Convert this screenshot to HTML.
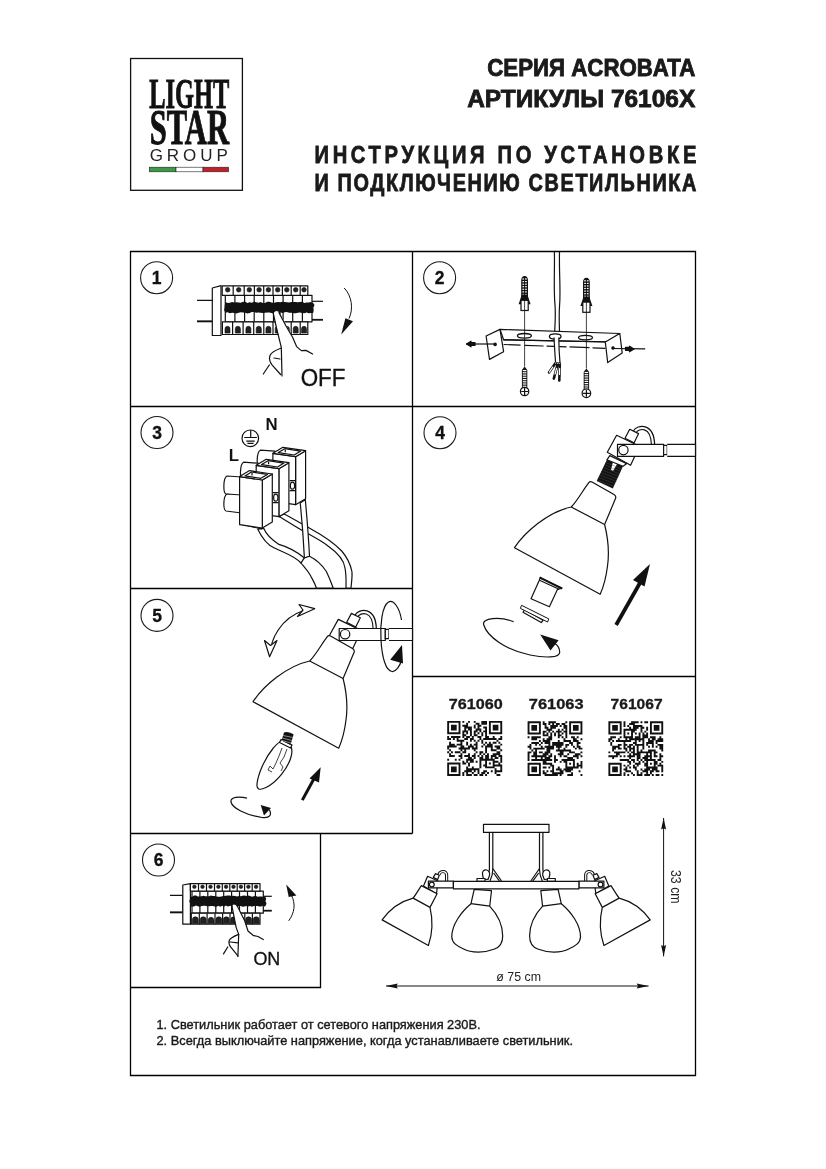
<!DOCTYPE html>
<html><head><meta charset="utf-8">
<style>
html,body{margin:0;padding:0;background:#fff;width:826px;height:1169px;overflow:hidden}
svg{display:block;position:absolute;left:0;top:0;will-change:transform}
text{font-family:"Liberation Sans",sans-serif}
.sf{font-family:"Liberation Serif",serif}
</style></head><body>
<svg width="826" height="1169" viewBox="0 0 826 1169">
<!-- base.svg -->
<g id="logo">
<rect x="130.6" y="58.5" width="111.8" height="131.8" fill="none" stroke="#111" stroke-width="1.3"/>
<text class="sf" x="149.2" y="107.5" font-size="42.5" font-weight="bold" fill="#111" stroke="#111" stroke-width="0.9" textLength="80.2" lengthAdjust="spacingAndGlyphs">LIGHT</text>
<text class="sf" x="149.7" y="144.2" font-size="50" font-weight="bold" fill="#111" stroke="#111" stroke-width="1" textLength="79.3" lengthAdjust="spacingAndGlyphs">STAR</text>
<text x="149.7" y="160.8" font-size="17" fill="#222" textLength="78.1" lengthAdjust="spacing">GROUP</text>
<rect x="149.3" y="167.2" width="26.7" height="4.6" fill="#3d9a48" stroke="#222" stroke-width="0.6"/>
<rect x="176" y="167.2" width="27" height="4.6" fill="#fff" stroke="#222" stroke-width="0.6"/>
<rect x="203" y="167.2" width="25.6" height="4.6" fill="#c11f2b" stroke="#222" stroke-width="0.6"/>
</g>
<g fill="#1a1a1a" stroke="#1a1a1a" stroke-width="0.85" font-weight="bold">
<text x="487.3" y="75.8" font-size="23.5" textLength="208" lengthAdjust="spacingAndGlyphs">СЕРИЯ ACROBATA</text>
<text x="467.2" y="106.8" font-size="24.5" textLength="228" lengthAdjust="spacingAndGlyphs">АРТИКУЛЫ 76106X</text>
<text x="314.5" y="162.8" font-size="24.7" letter-spacing="4.5" textLength="385.5" lengthAdjust="spacingAndGlyphs">ИНСТРУКЦИЯ ПО УСТАНОВКЕ</text>
<text x="314.5" y="190.9" font-size="24.7" letter-spacing="2" textLength="383.5" lengthAdjust="spacingAndGlyphs">И ПОДКЛЮЧЕНИЮ СВЕТИЛЬНИКА</text>
</g>
<g stroke="#000" stroke-width="1.3" fill="none">
<path d="M130.5 251.5H695.5V1075.5H130.5Z"/>
<path d="M412.5 251.5V833.5"/>
<path d="M130.5 406.5H695.5"/>
<path d="M130.5 588.5H412.5"/>
<path d="M412.5 676.5H695.5"/>
<path d="M130.5 833.5H412.5"/>
<path d="M320.5 833.5V987.5H130.5"/>
</g>
<g stroke="#1a1a1a" stroke-width="1.1" fill="none">
<circle cx="156.6" cy="277.7" r="16"/>
<circle cx="439.6" cy="277.7" r="16"/>
<circle cx="157" cy="432.5" r="16"/>
<circle cx="440" cy="432.7" r="16"/>
<circle cx="157" cy="615.4" r="16"/>
<circle cx="158.5" cy="860" r="16"/>
</g>
<g fill="#111" stroke="#111" stroke-width="0.3" font-weight="bold" font-size="17.5" text-anchor="middle">
<text x="156.6" y="283.8">1</text>
<text x="439.6" y="283.8">2</text>
<text x="157" y="438.6">3</text>
<text x="440" y="438.8">4</text>
<text x="157" y="621.5">5</text>
<text x="158.5" y="866.1">6</text>
</g>
<g fill="#1a1a1a" stroke="#1a1a1a" stroke-width="0.4" font-size="13.3">
<text x="156.5" y="1028.7" textLength="324" lengthAdjust="spacingAndGlyphs">1. Светильник работает от сетевого напряжения 230В.</text>
<text x="156.5" y="1044.9" textLength="416.5" lengthAdjust="spacingAndGlyphs">2. Всегда выключайте напряжение, когда устанавливаете светильник.</text>
</g>

<!-- p1.svg -->
<g fill="#fff" stroke="#111" stroke-width="1.2" stroke-linejoin="round">
<path d="M197 300.3H214.4V321.4H197" fill="none"/>
<path d="M197 321.4H214.4" stroke-width="1.8"/>
<path d="M312 301.3H323" fill="none"/>
<path d="M312 319.8H323" stroke-width="1.8"/>
<path d="M212.3 288L221 285.6V335.5H212.3Z"/>
<rect x="225.3" y="295.3" width="86.7" height="26.5"/>
<path d="M234.9 295.3V321.8"/>
<path d="M244.6 295.3V321.8"/>
<path d="M254.2 295.3V321.8"/>
<path d="M263.8 295.3V321.8"/>
<path d="M273.5 295.3V321.8"/>
<path d="M283.1 295.3V321.8"/>
<path d="M292.7 295.3V321.8"/>
<path d="M302.4 295.3V321.8"/>
<path fill="#111" stroke="none" d="M225.5 301.9 L227.7 302.9 L229.9 302.8 L232.1 302.1 L234.3 302.4 L236.5 302.3 L238.7 302.6 L240.8 302.8 L243 301.8 L245.2 301.7 L247.4 302.9 L249.6 302.3 L251.8 302.8 L254 301.7 L256.2 302.3 L258.4 302.7 L260.6 302 L262.8 303 L265 303 L267.2 301.7 L269.4 301.7 L271.5 302.5 L273.7 303 L275.9 302.2 L278.1 302 L280.3 302.3 L282.5 301.7 L284.7 302 L286.9 302.3 L289.1 302.4 L291.3 302 L293.5 302 L295.7 302 L297.9 302.3 L300 302.1 L302.2 301.7 L304.4 302.9 L306.6 302.5 L308.8 302.6 L311 302 L313.2 303.1 L314.5 304.9 L313.4 307.6 L313.7 310.2 L313.2 313 L311 313 L308.8 313.3 L306.6 312.6 L304.4 313.2 L302.2 312.9 L300 312.4 L297.9 312.8 L295.7 313.2 L293.5 313.2 L291.3 312.7 L289.1 312.8 L286.9 312 L284.7 312.3 L282.5 313.1 L280.3 312.6 L278.1 312.2 L275.9 312.8 L273.7 313 L271.5 312.9 L269.4 312.5 L267.2 312.6 L265 312.7 L262.8 313.1 L260.6 312.7 L258.4 312.6 L256.2 312.7 L254 312 L251.8 312.1 L249.6 313 L247.4 313.4 L245.2 312.8 L243 312.6 L240.8 312.2 L238.7 312.7 L236.5 313.4 L234.3 313.1 L232.1 312.8 L229.9 313.2 L227.7 312.3 L225.5 312.7 L224.1 310.2 L224.6 307.6 L224.8 304.9Z"/>
<path fill="#fff" d="M222.2 285.8H307.8V295.3H222.2Z"/>
<path d="M233.2 285.8V295.3"/>
<path d="M244.2 285.8V295.3"/>
<path d="M254.4 285.8V295.3"/>
<path d="M263.7 285.8V295.3"/>
<path d="M273 285.8V295.3"/>
<path d="M282.4 285.8V295.3"/>
<path d="M291.2 285.8V295.3"/>
<path d="M300.2 285.8V295.3"/>
<circle cx="227.7" cy="289.8" r="2.3" fill="#222" stroke="#111" stroke-width="0.6"/>
<circle cx="238.7" cy="289.8" r="2.3" fill="#222" stroke="#111" stroke-width="0.6"/>
<circle cx="249.3" cy="289.8" r="2.3" fill="#222" stroke="#111" stroke-width="0.6"/>
<circle cx="259.1" cy="289.8" r="2.3" fill="#222" stroke="#111" stroke-width="0.6"/>
<circle cx="268.4" cy="289.8" r="2.3" fill="#222" stroke="#111" stroke-width="0.6"/>
<circle cx="277.7" cy="289.8" r="2.3" fill="#222" stroke="#111" stroke-width="0.6"/>
<circle cx="286.8" cy="289.8" r="2.3" fill="#222" stroke="#111" stroke-width="0.6"/>
<circle cx="295.7" cy="289.8" r="2.3" fill="#222" stroke="#111" stroke-width="0.6"/>
<circle cx="304" cy="289.8" r="2.3" fill="#222" stroke="#111" stroke-width="0.6"/>
<path fill="#fff" d="M222.4 321.8H307.8V334.5H222.4Z"/>
<path d="M232.6 321.8V334.5"/>
<path d="M243.1 321.8V334.5"/>
<path d="M253.7 321.8V334.5"/>
<path d="M263.8 321.8V334.5"/>
<path d="M273 321.8V334.5"/>
<path d="M282.4 321.8V334.5"/>
<path d="M291.2 321.8V334.5"/>
<path d="M300.2 321.8V334.5"/>
<path fill="#222" stroke="#111" stroke-width="0.6" d="M225 328.8A2.5 2.5 0 0 1 230 328.8V333.1H225Z"/>
<path fill="#222" stroke="#111" stroke-width="0.6" d="M235.3 328.8A2.5 2.5 0 0 1 240.4 328.8V333.1H235.3Z"/>
<path fill="#222" stroke="#111" stroke-width="0.6" d="M245.9 328.8A2.5 2.5 0 0 1 250.9 328.8V333.1H245.9Z"/>
<path fill="#222" stroke="#111" stroke-width="0.6" d="M256.2 328.8A2.5 2.5 0 0 1 261.3 328.8V333.1H256.2Z"/>
<path fill="#222" stroke="#111" stroke-width="0.6" d="M265.9 328.8A2.5 2.5 0 0 1 270.9 328.8V333.1H265.9Z"/>
<path fill="#222" stroke="#111" stroke-width="0.6" d="M275.2 328.8A2.5 2.5 0 0 1 280.2 328.8V333.1H275.2Z"/>
<path fill="#222" stroke="#111" stroke-width="0.6" d="M284.3 328.8A2.5 2.5 0 0 1 289.3 328.8V333.1H284.3Z"/>
<path fill="#222" stroke="#111" stroke-width="0.6" d="M293.2 328.8A2.5 2.5 0 0 1 298.2 328.8V333.1H293.2Z"/>
<path fill="#222" stroke="#111" stroke-width="0.6" d="M301.5 328.8A2.5 2.5 0 0 1 306.5 328.8V333.1H301.5Z"/>
</g>
<g fill="#fff" stroke="#111" stroke-width="1.2" stroke-linejoin="round" stroke-linecap="round">
<path d="M273.3 313.3C273.5 311.2 275.5 310.2 277.5 310.6C279.5 311 280 312 280.2 313.5L292.6 337.3L296.6 346.6L301.3 350.6L306 351.5L312.6 354.5L312.6 380L282 380L281.3 347.3Z" stroke="none"/>
<path d="M273.3 313.3C273.5 311.2 275.5 310.2 277.5 310.6C279.5 311 280 312 280.2 313.5" fill="none"/>
<path d="M273.3 313.3L276.5 328L281.3 347.3L282 375.9" fill="none"/>
<path d="M279 312.6L286 326L292.6 337.3L296.6 346.6L301.3 350.6L306 350.4L312.6 354" fill="none"/>
<path d="M281.3 348C276 350 271.5 352 270 355.5C268.8 359 269.8 362 272 364.8L280.6 374.5" fill="none"/>
<path d="M274 358L280 359" fill="none"/>
<path d="M269.3 365L263.3 374" fill="none"/>
</g>
<path d="M344.2 288C352 296 353.5 309 349 318.6" fill="none" stroke="#111" stroke-width="1"/>
<path d="M345.4 318.3L353 321.3L341.2 334.6Z" fill="#111"/>
<text x="300.7" y="386.2" font-size="24" fill="#111" stroke="#111" stroke-width="0.35" textLength="44.8" lengthAdjust="spacingAndGlyphs">OFF</text>
<g fill="#fff" stroke="#111" stroke-width="1.2" stroke-linejoin="round">
<path d="M170 895.4H182.8V912.4H170" fill="none"/>
<path d="M170 912.4H182.8" stroke-width="1.8"/>
<path d="M262.5 896.3H271.8" fill="none"/>
<path d="M262.5 910.7H271.8" stroke-width="1.8"/>
<path d="M182.8 885L190.4 883.6V924.2H182.8Z"/>
<rect x="192" y="891.2" width="71.3" height="22"/>
<path d="M199.9 891.2V913.2"/>
<path d="M207.8 891.2V913.2"/>
<path d="M215.8 891.2V913.2"/>
<path d="M223.7 891.2V913.2"/>
<path d="M231.6 891.2V913.2"/>
<path d="M239.5 891.2V913.2"/>
<path d="M247.5 891.2V913.2"/>
<path d="M255.4 891.2V913.2"/>
<path fill="#111" stroke="none" d="M190.4 896.7 L192.3 896.7 L194.1 895.5 L196 895.5 L197.9 896.6 L199.7 896.4 L201.6 896.3 L203.5 895.8 L205.3 896.2 L207.2 896.2 L209.1 896.2 L210.9 895.6 L212.8 896 L214.6 896 L216.5 896.4 L218.4 896.8 L220.2 896.7 L222.1 896.2 L224 896 L225.8 895.8 L227.7 895.5 L229.6 895.4 L231.4 896.1 L233.3 895.8 L235.2 895.9 L237 896.6 L238.9 896.1 L240.8 896.2 L242.6 895.7 L244.5 895.4 L246.4 895.9 L248.2 895.6 L250.1 896.1 L251.9 896.8 L253.8 896.3 L255.7 895.7 L257.5 896.7 L259.4 896.5 L261.3 896.4 L263.1 896.7 L265 896.5 L266.2 898.5 L265.5 901.1 L266.5 903.7 L265 906.7 L263.1 905.6 L261.3 906.5 L259.4 906.4 L257.5 906 L255.7 906.1 L253.8 906.1 L251.9 906.7 L250.1 906.1 L248.2 906.6 L246.4 905.9 L244.5 906.6 L242.6 906.7 L240.8 906 L238.9 906.2 L237 906.7 L235.2 906.4 L233.3 906.1 L231.4 905.7 L229.6 905.9 L227.7 906.4 L225.8 905.6 L224 906.7 L222.1 905.8 L220.2 906.7 L218.4 905.8 L216.5 906.7 L214.6 906.4 L212.8 906.1 L210.9 906.1 L209.1 906.3 L207.2 906.2 L205.3 905.8 L203.5 905.7 L201.6 906.1 L199.7 906.7 L197.9 906.3 L196 905.5 L194.1 906.5 L192.3 906.4 L190.4 906.7 L190.1 903.7 L189.3 901.1 L190.3 898.5Z"/>
<path fill="#fff" d="M190.4 883.6H260V891.2H190.4Z"/>
<path d="M198.5 883.6V891.2"/>
<path d="M206.5 883.6V891.2"/>
<path d="M214.5 883.6V891.2"/>
<path d="M222.3 883.6V891.2"/>
<path d="M229.8 883.6V891.2"/>
<path d="M237.2 883.6V891.2"/>
<path d="M244.6 883.6V891.2"/>
<path d="M252.2 883.6V891.2"/>
<circle cx="194.4" cy="886.8" r="1.8" fill="#222" stroke="#111" stroke-width="0.6"/>
<circle cx="202.5" cy="886.8" r="1.8" fill="#222" stroke="#111" stroke-width="0.6"/>
<circle cx="210.5" cy="886.8" r="1.8" fill="#222" stroke="#111" stroke-width="0.6"/>
<circle cx="218.4" cy="886.8" r="1.8" fill="#222" stroke="#111" stroke-width="0.6"/>
<circle cx="226.1" cy="886.8" r="1.8" fill="#222" stroke="#111" stroke-width="0.6"/>
<circle cx="233.5" cy="886.8" r="1.8" fill="#222" stroke="#111" stroke-width="0.6"/>
<circle cx="240.9" cy="886.8" r="1.8" fill="#222" stroke="#111" stroke-width="0.6"/>
<circle cx="248.4" cy="886.8" r="1.8" fill="#222" stroke="#111" stroke-width="0.6"/>
<circle cx="256.1" cy="886.8" r="1.8" fill="#222" stroke="#111" stroke-width="0.6"/>
<path fill="#fff" d="M191.3 913.2H260V924.2H191.3Z"/>
<path d="M199.3 913.2V924.2"/>
<path d="M207.1 913.2V924.2"/>
<path d="M215 913.2V924.2"/>
<path d="M222.6 913.2V924.2"/>
<path d="M230 913.2V924.2"/>
<path d="M237.4 913.2V924.2"/>
<path d="M244.8 913.2V924.2"/>
<path d="M252.4 913.2V924.2"/>
<path fill="#222" stroke="#111" stroke-width="0.6" d="M192.3 919.8A3 3 0 0 1 198.3 919.8V923.4H192.3Z"/>
<path fill="#222" stroke="#111" stroke-width="0.6" d="M200.2 919.8A3 3 0 0 1 206.2 919.8V923.4H200.2Z"/>
<path fill="#222" stroke="#111" stroke-width="0.6" d="M208.1 919.8A3 3 0 0 1 214 919.8V923.4H208.1Z"/>
<path fill="#222" stroke="#111" stroke-width="0.6" d="M215.8 919.8A3 3 0 0 1 221.8 919.8V923.4H215.8Z"/>
<path fill="#222" stroke="#111" stroke-width="0.6" d="M223.3 919.8A3 3 0 0 1 229.3 919.8V923.4H223.3Z"/>
<path fill="#222" stroke="#111" stroke-width="0.6" d="M230.7 919.8A3 3 0 0 1 236.7 919.8V923.4H230.7Z"/>
<path fill="#222" stroke="#111" stroke-width="0.6" d="M238.1 919.8A3 3 0 0 1 244.1 919.8V923.4H238.1Z"/>
<path fill="#222" stroke="#111" stroke-width="0.6" d="M245.6 919.8A3 3 0 0 1 251.6 919.8V923.4H245.6Z"/>
<path fill="#222" stroke="#111" stroke-width="0.6" d="M253.2 919.8A3 3 0 0 1 259.2 919.8V923.4H253.2Z"/>
</g>
<g fill="#fff" stroke="#111" stroke-width="1.2" stroke-linejoin="round" stroke-linecap="round">
<path d="M232 906.4C231.8 904.6 233 903.8 234.2 903.9C235.6 904 236.6 904.8 237 905.6L244.7 920.8L248 931L253 935.3L263.3 939.5L263.3 960L237.9 960L238.7 934.4L236.2 927.6Z" stroke="none"/>
<path d="M232 906.4C231.8 904.6 233 903.8 234.2 903.9C235.6 904 236.6 904.8 237 905.6" fill="none"/>
<path d="M232 906.4L236.2 927.6L238.7 934.4L237.9 956.4" fill="none"/>
<path d="M237 905.6L244.7 920.8L248 931L253 935.3L258 936.5L263.3 939.5" fill="none"/>
<path d="M238.7 934.4C234.5 936 230.5 937.8 229.3 940.3C228.4 943 229 945 230.8 947.2L237.9 955.8" fill="none"/>
<path d="M230.3 942L237.9 942.9" fill="none"/>
<path d="M227.7 947L223.5 953.9" fill="none"/>
</g>
<path d="M288.7 920.8C294.5 913 296 904 291.3 895" fill="none" stroke="#111" stroke-width="1"/>
<path d="M286.2 884.4L296.4 895.4L288.7 897Z" fill="#111"/>
<text x="253.4" y="965.1" font-size="17.5" fill="#111" stroke="#111" stroke-width="0.3" textLength="26.9" lengthAdjust="spacingAndGlyphs">ON</text>

<!-- p2.svg -->
<g stroke="#111" stroke-width="1.2" fill="none" stroke-linejoin="round">
<path d="M554.4 252C554.8 270 553.5 290 555 305C556 318 554.5 328 554.6 336M559.5 252C559 272 560.8 290 559.6 305C558.6 318 559.7 328 559.5 336"/>
<path fill="#fff" d="M500 329.4L619.8 333.5L607.7 341.8L503.6 339.8Z"/>
<path d="M503.6 339.8L607.7 342"/>
<path d="M503.6 344.5L605.3 348.3" stroke-dasharray="17 4 19 3 20 3 20 3"/>
<path fill="#fff" d="M486.1 336L500 329.4L503.6 351.7L489.5 359.4Z"/>
<path fill="#fff" d="M605.3 342L619.8 333.5L622.2 352.9L607.7 362.6Z"/>
<ellipse cx="524.4" cy="335.8" rx="7" ry="2.3" stroke-width="1.3"/>
<ellipse cx="555.2" cy="336.4" rx="5.8" ry="2.6" stroke-width="1.3" fill="#fff"/>
<ellipse cx="585.5" cy="337.6" rx="7" ry="2.3" stroke-width="1.3"/>
<circle cx="495.1" cy="344.4" r="1.2" fill="#111"/><circle cx="613" cy="348" r="1.2" fill="#111"/>
<path d="M466 344H495"/><path d="M466.5 344L471 341.2V346.8Z" fill="#111"/><rect x="470.5" y="342.5" width="4.5" height="3" fill="#111"/>
<path d="M613 348.5L645.2 348.8"/><path d="M634 349L629.5 346.2V351.8Z" fill="#111"/><rect x="625.5" y="347.3" width="4.5" height="3" fill="#111"/>
<path fill="#fff" stroke="none" d="M554 337L555.6 363L560 363L558.8 337Z"/><path d="M554 337.5C554.5 346 555 356 555.6 363M558.8 337.5C558.8 348 559.4 356 560 363"/>
<path d="M555.6 363L549 372.5M557.8 363.5L553.8 378.6M559.8 363.5L559.3 380.5" stroke-width="2.6" stroke-linecap="round"/>
<path d="M555.6 363L549 372.5M557.8 363.5L553.8 378.6M559.8 363.5L559.3 380.5" stroke="#fff" stroke-width="1.2" stroke-linecap="round" stroke-dasharray="0 5 6 20"/>
<path d="M524.6 310V366.6M586.4 312V368.5" stroke-width="0.8"/>
</g>
<path fill="#111" d="M521.2 280.5Q521.4 276 524.6 276Q527.8 276 528 280.5V297.6H521.2Z"/>
<path d="M522.4 279H526.8" stroke="#fff" stroke-width="1.2"/>
<path d="M522.4 281.6H526.8" stroke="#fff" stroke-width="1.2"/>
<path d="M522.4 284.2H526.8" stroke="#fff" stroke-width="1.2"/>
<path d="M522.4 286.7H526.8" stroke="#fff" stroke-width="1.2"/>
<path d="M522.4 289.3H526.8" stroke="#fff" stroke-width="1.2"/>
<path d="M522.4 291.9H526.8" stroke="#fff" stroke-width="1.2"/>
<path d="M522.4 294.5H526.8" stroke="#fff" stroke-width="1.2"/>
<path d="M524.6 277.5V297.6" stroke="#111" stroke-width="1"/>
<path fill="#111" d="M521.8 294.6L518.6 304.2L521 304.2L528.2 304.2L530.6 304.2L527.4 294.6Z"/>
<rect x="521" y="300.3" width="7.2" height="10.2" fill="#fff" stroke="#111" stroke-width="1.2"/>
<path d="M524.6 300.3V310.5" stroke="#111" stroke-width="0.8"/>
<path fill="#111" d="M583 282.3Q583.2 277.8 586.4 277.8Q589.6 277.8 589.8 282.3V299.4H583Z"/>
<path d="M584.2 280.8H588.6" stroke="#fff" stroke-width="1.2"/>
<path d="M584.2 283.4H588.6" stroke="#fff" stroke-width="1.2"/>
<path d="M584.2 286H588.6" stroke="#fff" stroke-width="1.2"/>
<path d="M584.2 288.5H588.6" stroke="#fff" stroke-width="1.2"/>
<path d="M584.2 291.1H588.6" stroke="#fff" stroke-width="1.2"/>
<path d="M584.2 293.7H588.6" stroke="#fff" stroke-width="1.2"/>
<path d="M584.2 296.3H588.6" stroke="#fff" stroke-width="1.2"/>
<path d="M586.4 279.3V299.4" stroke="#111" stroke-width="1"/>
<path fill="#111" d="M583.6 296.4L580.4 306L582.8 306L590 306L592.4 306L589.2 296.4Z"/>
<rect x="582.8" y="302.1" width="7.2" height="10.2" fill="#fff" stroke="#111" stroke-width="1.2"/>
<path d="M586.4 302.1V312.3" stroke="#111" stroke-width="0.8"/>
<path fill="#111" d="M524.6 366.6L527.3 370.1V388.5H521.9L521.9 370.1Z"/>
<path d="M522.8 370.6H526.4" stroke="#fff" stroke-width="1.2"/>
<path d="M522.8 372.8H526.4" stroke="#fff" stroke-width="1.2"/>
<path d="M522.8 375.1H526.4" stroke="#fff" stroke-width="1.2"/>
<path d="M522.8 377.3H526.4" stroke="#fff" stroke-width="1.2"/>
<path d="M522.8 379.6H526.4" stroke="#fff" stroke-width="1.2"/>
<path d="M522.8 381.8H526.4" stroke="#fff" stroke-width="1.2"/>
<path d="M522.8 384H526.4" stroke="#fff" stroke-width="1.2"/>
<path d="M522.8 386.3H526.4" stroke="#fff" stroke-width="1.2"/>
<circle cx="524.6" cy="391.5" r="4.2" fill="#fff" stroke="#111" stroke-width="1.2"/>
<path d="M521.2 391.5H528M524.6 388.1V394.9" stroke="#111" stroke-width="1.2"/>
<path fill="#111" d="M586.4 368.5L589.1 372V390.3H583.7L583.7 372Z"/>
<path d="M584.6 372.5H588.2" stroke="#fff" stroke-width="1.2"/>
<path d="M584.6 374.7H588.2" stroke="#fff" stroke-width="1.2"/>
<path d="M584.6 376.9H588.2" stroke="#fff" stroke-width="1.2"/>
<path d="M584.6 379.2H588.2" stroke="#fff" stroke-width="1.2"/>
<path d="M584.6 381.4H588.2" stroke="#fff" stroke-width="1.2"/>
<path d="M584.6 383.6H588.2" stroke="#fff" stroke-width="1.2"/>
<path d="M584.6 385.9H588.2" stroke="#fff" stroke-width="1.2"/>
<path d="M584.6 388.1H588.2" stroke="#fff" stroke-width="1.2"/>
<circle cx="586.4" cy="393.3" r="4.3" fill="#fff" stroke="#111" stroke-width="1.2"/>
<path d="M582.9 393.3H589.9M586.4 389.8V396.8" stroke="#111" stroke-width="1.2"/>

<!-- p3.svg -->
<g stroke="#111" stroke-width="1.2" fill="#fff" stroke-linejoin="round">
<path fill="#fff" d="M257.8 529.2C262 538 268 545 274 547.8C285 553 295 556 301 563L304.4 558C296 551 288 547 279 544.4C272 540 266 534 263.7 528.3Z"/>
<path fill="#fff" d="M279 516.4C288 522 296 527 302.7 530.8C312 536 322 541 328 546C338 553 344 560 345 568C346.5 576 346 582 346 588H351C351.5 582 352.5 576 351.9 571.5C350 562 346 556 341.7 551C334 543 322 535 311 529C302 524 292 518 284 514Z"/>
<path fill="#fff" d="M300.2 502.9C302 520 303.5 540 304.4 558L309.5 556.3C308.5 536 307 518 305.3 499.5Z"/>
<path fill="#fff" d="M301 563C305 568 309 572 311 576.6C313.5 581 315.5 585 316.3 588H333.2C331 582 329 577 326.4 571.5C322 565 315 559 309.5 556.3L304.4 558Z"/>
<path fill="none" d="M240 524L262 529"/>
<path d="M274.9 451.2L260.3 450.2C256.3 452.2 256.3 467.7 259.3 468.7L274.9 470.7Z"/>
<path d="M295.6 456.7L305.6 450.7V498.7L295.6 504.7Z"/>
<path d="M272.9 453.3L295.6 456.7V504.7L272.9 501.3Z"/>
<path d="M272.9 453.3L282.9 447.3L305.6 450.7L295.6 456.7Z"/>
<path d="M278.3 452.6L294.2 455L300.7 451.1L284.8 448.7Z" stroke-width="1.2"/>
<path d="M285.3 449.7L285.3 452.2" fill="none"/>
<path d="M292.2 482.2C295.4 482.2 295.4 489.2 292.2 489.2C289.7 489.2 289.7 482.2 292.2 482.2Z" fill="#fff"/>
<path d="M289.7 480.7H295.2M289.7 490.7H295.2" fill="none"/><path d="M258.2 463.2L243.6 462.2C239.6 464.2 239.6 479.7 242.6 480.7L258.2 482.7Z"/>
<path d="M278.9 468.7L288.9 462.7V510.7L278.9 516.7Z"/>
<path d="M256.2 465.3L278.9 468.7V516.7L256.2 513.3Z"/>
<path d="M256.2 465.3L266.2 459.3L288.9 462.7L278.9 468.7Z"/>
<path d="M261.6 464.6L277.5 467L284 463.1L268.1 460.7Z" stroke-width="1.2"/>
<path d="M268.6 461.7L268.6 464.2" fill="none"/>
<path d="M275.5 494.2C278.7 494.2 278.7 501.2 275.5 501.2C273 501.2 273 494.2 275.5 494.2Z" fill="#fff"/>
<path d="M273 492.7H278.5M273 502.7H278.5" fill="none"/><path d="M241.6 477L227 476C223 478 223 493 226 494L241.6 496Z"/>
<path d="M241.6 495L227 494C223 496 223 510 226 511L241.6 513Z"/>
<path d="M262.3 480L272.3 474V522L262.3 528Z"/>
<path d="M239.6 476.6L262.3 480V528L239.6 524.6Z"/>
<path d="M239.6 476.6L249.6 470.6L272.3 474L262.3 480Z"/>
<path d="M245 475.9L260.9 478.3L267.4 474.4L251.5 472Z" stroke-width="1.2"/>
<path d="M252 473L252 475.5" fill="none"/></g>
<g stroke="#111" stroke-width="1.2" fill="none"><circle cx="250.3" cy="438.3" r="8.3"/><path d="M250.7 430.3V437.3M244.2 437.5H256.9M246.3 441.2H254.7M247.4 443.4H253.6"/></g>
<text x="265.5" y="429.6" font-size="16.8" font-weight="bold" fill="#111">N</text>
<text x="228.8" y="460.6" font-size="16.8" font-weight="bold" fill="#111">L</text>

<!-- p4.svg -->
<g stroke="#111" stroke-width="1.2" fill="#fff" stroke-linejoin="round">
<path fill="#111" stroke="none" d="M606.9 459.8L623 466.2L612.8 488.6L596.7 481Z"/>
<path fill="#fff" stroke="none" d="M613.2 460.7L617.5 463.2L613.2 470.8L611 470Z"/>
<path stroke="#555" stroke-width="0.4" d="M605.5 462.5L622 469M604.5 465L621 471.5M603.3 467.5L619.8 474M602.2 470L618.7 476.5M601 472.5L617.5 479M600 475L616.5 481.5M598.8 477.5L615.3 484M597.7 480L614 486.5"/>
<path fill="#fff" d="M609.8 455.6L626.8 463.6L623 466.2L606.9 459.8Z"/>
<path fill="none" stroke-width="4.4" d="M634.6 432 C638 426 652.5 424 653 444.2" stroke-linecap="butt"/>
<path fill="none" stroke="#fff" stroke-width="2" d="M634.6 432 C638 426 652.5 424 653 445"/>
<path fill="#fff" d="M625 438.2L629.7 429.3L638.6 433.6L634 442.9Z"/>
<path fill="#fff" d="M607.3 452.2L616.6 435.3L639.5 446.3L630.6 465.3Z"/>
<rect x="617.5" y="444.4" width="46.1" height="12" fill="#fff"/>
<rect x="663.6" y="445.3" width="3.6" height="9.3" fill="#fff"/>
<path fill="#fff" d="M667.2 444.4H695.5V456.4H667.2"/>
<circle cx="623.4" cy="450.1" r="4.7" fill="#fff"/>
<path fill="#fff" d="M588.6 482.8C589.5 481.6 590.8 481.3 592 482L614 494.6C615.6 495.6 616.2 497 615.5 498.6L604.6 524.5C607.5 536 609.5 552 607.5 566C606 578 603 588 600.2 594.2L514.5 547.7C525 532 548 512 571.2 507C578 500 583 490 588.6 482.8Z"/>
<path fill="none" d="M571.2 507L604.6 524.5"/>
<path fill="#fff" d="M540.2 578L562 588L557.4 589.6L549.4 606.8L531 598.8L539 581L540.2 578Z"/>
<path fill="none" d="M539.5 580.3L558.6 589"/>
<path fill="none" stroke-width="2" d="M539.6 577.3L562 588.6"/>
<path fill="#fff" d="M524.7 609.5L523 612.3L541.3 622.6L543 620.3Z"/>
<path fill="#fff" stroke-width="1" d="M521.5 605.3L548.8 618.9L547.6 622L520.4 608.4Z"/>
<path fill="none" d="M513.7 621.8C500 616 481 618 483.8 625C487 636 505 650 530 655C545 658 560 658 559.7 652C559.5 648 557 645 555 643.6"/>
<path fill="#111" stroke="none" d="M540.2 634.4L558.6 640.2L550.5 650.5Z"/>
<path fill="none" stroke-width="3.8" d="M616.1 625L640.5 582"/>
<path fill="#111" stroke="none" d="M650 564L633 580L644.5 586.4Z"/>
</g>

<!-- p5.svg -->
<g stroke="#111" stroke-width="1.2" fill="#fff" stroke-linejoin="round">
<path fill="none" stroke-width="4.4" d="M356.3 616.1 C359.7 610.1 374.2 608.1 374.7 628.3" stroke-linecap="butt"/>
<path fill="none" stroke="#fff" stroke-width="2" d="M356.3 616.1 C359.7 610.1 374.2 608.1 374.7 629.1"/>
<path fill="#fff" d="M346.7 622.3L351.4 613.4L360.3 617.7L355.7 627Z"/>
<path fill="#fff" d="M329 636.3L338.3 619.4L361.2 630.4L352.3 649.4Z"/>
<rect x="339.2" y="628.5" width="46.1" height="12" fill="#fff"/>
<rect x="385.3" y="629.4" width="3.6" height="9.3" fill="#fff"/>
<path fill="#fff" d="M388.9 628.5H412.5V640.5H388.9"/>
<circle cx="345.1" cy="634.2" r="4.7" fill="#fff"/>
<g transform="translate(-261.5 154)"><path fill="#fff" d="M588.6 482.8C589.5 481.6 590.8 481.3 592 482L614 494.6C615.6 495.6 616.2 497 615.5 498.6L604.6 524.5C607.5 536 609.5 552 607.5 566C606 578 603 588 600.2 594.2L514.5 547.7C525 532 548 512 571.2 507C578 500 583 490 588.6 482.8Z"/>
<path fill="none" d="M571.2 507L604.6 524.5"/></g>
<path fill="none" d="M401.5 620C399.5 607 393 599 388.5 602C382 606 380 625 381 640C382 658 386 671 392 671.5C396 672 400 666 401.5 660"/>
<path fill="#111" stroke="none" d="M402 645L390.2 659.7L403 663.6Z"/>
<path fill="none" d="M271 653C270 640 281 618 303 610.7"/>
<path fill="#fff" d="M314.7 608.7L299 604.5L303 610L297.5 616.5Z"/>
<path fill="#fff" d="M269.6 656.8L264.5 640.5L270.5 645.5L277 640.5Z"/>
<path fill="#fff" d="M282.5 741C289 742 294 746 291 757C288 768 277 782 266 787.5C259 791 256.5 789 257 784C258 774 265 758 273 748.5C276 745 279 741 282.5 741Z"/>
<path fill="#fff" d="M281 739.5L292 745L290.5 748L279.5 742.5Z"/>
<path fill="#111" stroke="none" d="M284 732.5C286 731 291 732.5 293.6 734.5L290.5 745L281.5 740.5Z"/>
<path stroke="#fff" stroke-width="0.5" d="M283 735.5L292.8 737.5M282.3 738L291.8 740.5M281.8 740.5L291 743"/>
<path fill="none" stroke-width="0.8" d="M282 748L279 756L276 763M287 749L284 757M276 763L273 769L270 766L268 770L272 772M284 757L280 763L283 767L281 771"/>
<path fill="none" stroke-width="3" d="M302.3 800.1L316 775"/>
<path fill="#111" stroke="none" d="M320.7 767.2L309.5 778.5L319 782.5Z"/>
<path fill="none" d="M247 798.2C239 796 230 797 231 802C232.5 808 245 815 262 817.5C270 818.5 272 815 269.4 809.8"/>
<path fill="#111" stroke="none" d="M260.7 805L271 808L264 815.5Z"/>
</g>

<!-- qr.svg -->
<path fill="#111" d="M447.2 720.9h13.28v1.95h-13.28zM462.37 720.9h1.9v1.95h-1.9zM468.06 720.9h1.9v1.95h-1.9zM473.75 720.9h1.9v1.95h-1.9zM481.34 720.9h5.69v1.95h-5.69zM488.92 720.9h13.28v1.95h-13.28zM447.2 722.8h1.9v1.95h-1.9zM458.58 722.8h1.9v1.95h-1.9zM466.17 722.8h1.9v1.95h-1.9zM475.65 722.8h3.79v1.95h-3.79zM481.34 722.8h5.69v1.95h-5.69zM488.92 722.8h1.9v1.95h-1.9zM500.3 722.8h1.9v1.95h-1.9zM447.2 724.69h1.9v1.95h-1.9zM450.99 724.69h5.69v1.95h-5.69zM458.58 724.69h1.9v1.95h-1.9zM462.37 724.69h5.69v1.95h-5.69zM473.75 724.69h1.9v1.95h-1.9zM477.54 724.69h3.79v1.95h-3.79zM488.92 724.69h1.9v1.95h-1.9zM492.72 724.69h5.69v1.95h-5.69zM500.3 724.69h1.9v1.95h-1.9zM447.2 726.59h1.9v1.95h-1.9zM450.99 726.59h5.69v1.95h-5.69zM458.58 726.59h1.9v1.95h-1.9zM464.27 726.59h7.59v1.95h-7.59zM473.75 726.59h1.9v1.95h-1.9zM477.54 726.59h1.9v1.95h-1.9zM483.23 726.59h3.79v1.95h-3.79zM488.92 726.59h1.9v1.95h-1.9zM492.72 726.59h5.69v1.95h-5.69zM500.3 726.59h1.9v1.95h-1.9zM447.2 728.49h1.9v1.95h-1.9zM450.99 728.49h5.69v1.95h-5.69zM458.58 728.49h1.9v1.95h-1.9zM464.27 728.49h1.9v1.95h-1.9zM468.06 728.49h3.79v1.95h-3.79zM475.65 728.49h5.69v1.95h-5.69zM485.13 728.49h1.9v1.95h-1.9zM488.92 728.49h1.9v1.95h-1.9zM492.72 728.49h5.69v1.95h-5.69zM500.3 728.49h1.9v1.95h-1.9zM447.2 730.38h1.9v1.95h-1.9zM458.58 730.38h1.9v1.95h-1.9zM462.37 730.38h5.69v1.95h-5.69zM469.96 730.38h1.9v1.95h-1.9zM473.75 730.38h3.79v1.95h-3.79zM479.44 730.38h1.9v1.95h-1.9zM483.23 730.38h3.79v1.95h-3.79zM488.92 730.38h1.9v1.95h-1.9zM500.3 730.38h1.9v1.95h-1.9zM447.2 732.28h13.28v1.95h-13.28zM462.37 732.28h1.9v1.95h-1.9zM466.17 732.28h1.9v1.95h-1.9zM469.96 732.28h1.9v1.95h-1.9zM473.75 732.28h1.9v1.95h-1.9zM477.54 732.28h1.9v1.95h-1.9zM481.34 732.28h1.9v1.95h-1.9zM485.13 732.28h1.9v1.95h-1.9zM488.92 732.28h13.28v1.95h-13.28zM462.37 734.18h3.79v1.95h-3.79zM469.96 734.18h1.9v1.95h-1.9zM473.75 734.18h3.79v1.95h-3.79zM481.34 734.18h1.9v1.95h-1.9zM485.13 734.18h1.9v1.95h-1.9zM447.2 736.07h1.9v1.95h-1.9zM450.99 736.07h9.48v1.95h-9.48zM462.37 736.07h1.9v1.95h-1.9zM466.17 736.07h3.79v1.95h-3.79zM471.86 736.07h1.9v1.95h-1.9zM477.54 736.07h3.79v1.95h-3.79zM485.13 736.07h3.79v1.95h-3.79zM492.72 736.07h1.9v1.95h-1.9zM500.3 736.07h1.9v1.95h-1.9zM447.2 737.97h3.79v1.95h-3.79zM452.89 737.97h1.9v1.95h-1.9zM456.68 737.97h1.9v1.95h-1.9zM464.27 737.97h3.79v1.95h-3.79zM469.96 737.97h3.79v1.95h-3.79zM479.44 737.97h1.9v1.95h-1.9zM483.23 737.97h13.28v1.95h-13.28zM498.41 737.97h3.79v1.95h-3.79zM456.68 739.87h7.59v1.95h-7.59zM469.96 739.87h1.9v1.95h-1.9zM473.75 739.87h1.9v1.95h-1.9zM477.54 739.87h1.9v1.95h-1.9zM481.34 739.87h1.9v1.95h-1.9zM496.51 739.87h1.9v1.95h-1.9zM449.1 741.76h1.9v1.95h-1.9zM460.48 741.76h1.9v1.95h-1.9zM466.17 741.76h1.9v1.95h-1.9zM475.65 741.76h1.9v1.95h-1.9zM481.34 741.76h1.9v1.95h-1.9zM485.13 741.76h1.9v1.95h-1.9zM488.92 741.76h1.9v1.95h-1.9zM492.72 741.76h3.79v1.95h-3.79zM498.41 741.76h1.9v1.95h-1.9zM449.1 743.66h5.69v1.95h-5.69zM456.68 743.66h5.69v1.95h-5.69zM466.17 743.66h1.9v1.95h-1.9zM469.96 743.66h1.9v1.95h-1.9zM473.75 743.66h3.79v1.95h-3.79zM483.23 743.66h1.9v1.95h-1.9zM487.03 743.66h5.69v1.95h-5.69zM500.3 743.66h1.9v1.95h-1.9zM447.2 745.56h9.48v1.95h-9.48zM460.48 745.56h3.79v1.95h-3.79zM468.06 745.56h5.69v1.95h-5.69zM475.65 745.56h1.9v1.95h-1.9zM481.34 745.56h1.9v1.95h-1.9zM485.13 745.56h7.59v1.95h-7.59zM494.61 745.56h5.69v1.95h-5.69zM447.2 747.45h1.9v1.95h-1.9zM458.58 747.45h11.38v1.95h-11.38zM471.86 747.45h5.69v1.95h-5.69zM485.13 747.45h1.9v1.95h-1.9zM490.82 747.45h1.9v1.95h-1.9zM496.51 747.45h3.79v1.95h-3.79zM449.1 749.35h1.9v1.95h-1.9zM460.48 749.35h1.9v1.95h-1.9zM464.27 749.35h1.9v1.95h-1.9zM473.75 749.35h1.9v1.95h-1.9zM485.13 749.35h1.9v1.95h-1.9zM490.82 749.35h5.69v1.95h-5.69zM500.3 749.35h1.9v1.95h-1.9zM447.2 751.24h1.9v1.95h-1.9zM450.99 751.24h1.9v1.95h-1.9zM454.79 751.24h5.69v1.95h-5.69zM462.37 751.24h3.79v1.95h-3.79zM475.65 751.24h1.9v1.95h-1.9zM479.44 751.24h3.79v1.95h-3.79zM485.13 751.24h1.9v1.95h-1.9zM496.51 751.24h3.79v1.95h-3.79zM449.1 753.14h1.9v1.95h-1.9zM460.48 753.14h1.9v1.95h-1.9zM468.06 753.14h1.9v1.95h-1.9zM473.75 753.14h1.9v1.95h-1.9zM479.44 753.14h1.9v1.95h-1.9zM483.23 753.14h1.9v1.95h-1.9zM487.03 753.14h1.9v1.95h-1.9zM492.72 753.14h7.59v1.95h-7.59zM449.1 755.04h5.69v1.95h-5.69zM458.58 755.04h3.79v1.95h-3.79zM464.27 755.04h5.69v1.95h-5.69zM471.86 755.04h3.79v1.95h-3.79zM477.54 755.04h1.9v1.95h-1.9zM481.34 755.04h1.9v1.95h-1.9zM485.13 755.04h3.79v1.95h-3.79zM490.82 755.04h5.69v1.95h-5.69zM498.41 755.04h3.79v1.95h-3.79zM460.48 756.93h1.9v1.95h-1.9zM468.06 756.93h3.79v1.95h-3.79zM473.75 756.93h1.9v1.95h-1.9zM479.44 756.93h3.79v1.95h-3.79zM485.13 756.93h3.79v1.95h-3.79zM490.82 756.93h1.9v1.95h-1.9zM494.61 756.93h3.79v1.95h-3.79zM500.3 756.93h1.9v1.95h-1.9zM447.2 758.83h1.9v1.95h-1.9zM454.79 758.83h1.9v1.95h-1.9zM458.58 758.83h1.9v1.95h-1.9zM466.17 758.83h7.59v1.95h-7.59zM479.44 758.83h15.17v1.95h-15.17zM500.3 758.83h1.9v1.95h-1.9zM462.37 760.73h1.9v1.95h-1.9zM466.17 760.73h1.9v1.95h-1.9zM469.96 760.73h3.79v1.95h-3.79zM475.65 760.73h1.9v1.95h-1.9zM479.44 760.73h1.9v1.95h-1.9zM485.13 760.73h1.9v1.95h-1.9zM492.72 760.73h5.69v1.95h-5.69zM500.3 760.73h1.9v1.95h-1.9zM447.2 762.62h13.28v1.95h-13.28zM462.37 762.62h3.79v1.95h-3.79zM468.06 762.62h1.9v1.95h-1.9zM479.44 762.62h1.9v1.95h-1.9zM485.13 762.62h1.9v1.95h-1.9zM488.92 762.62h1.9v1.95h-1.9zM492.72 762.62h1.9v1.95h-1.9zM498.41 762.62h1.9v1.95h-1.9zM447.2 764.52h1.9v1.95h-1.9zM458.58 764.52h1.9v1.95h-1.9zM468.06 764.52h1.9v1.95h-1.9zM479.44 764.52h1.9v1.95h-1.9zM483.23 764.52h3.79v1.95h-3.79zM492.72 764.52h9.48v1.95h-9.48zM447.2 766.42h1.9v1.95h-1.9zM450.99 766.42h5.69v1.95h-5.69zM458.58 766.42h1.9v1.95h-1.9zM466.17 766.42h1.9v1.95h-1.9zM471.86 766.42h1.9v1.95h-1.9zM479.44 766.42h1.9v1.95h-1.9zM485.13 766.42h9.48v1.95h-9.48zM500.3 766.42h1.9v1.95h-1.9zM447.2 768.31h1.9v1.95h-1.9zM450.99 768.31h5.69v1.95h-5.69zM458.58 768.31h1.9v1.95h-1.9zM466.17 768.31h13.28v1.95h-13.28zM494.61 768.31h1.9v1.95h-1.9zM500.3 768.31h1.9v1.95h-1.9zM447.2 770.21h1.9v1.95h-1.9zM450.99 770.21h5.69v1.95h-5.69zM458.58 770.21h1.9v1.95h-1.9zM464.27 770.21h7.59v1.95h-7.59zM473.75 770.21h1.9v1.95h-1.9zM477.54 770.21h1.9v1.95h-1.9zM483.23 770.21h3.79v1.95h-3.79zM490.82 770.21h1.9v1.95h-1.9zM494.61 770.21h7.59v1.95h-7.59zM447.2 772.11h1.9v1.95h-1.9zM458.58 772.11h1.9v1.95h-1.9zM462.37 772.11h1.9v1.95h-1.9zM466.17 772.11h1.9v1.95h-1.9zM471.86 772.11h1.9v1.95h-1.9zM477.54 772.11h1.9v1.95h-1.9zM481.34 772.11h3.79v1.95h-3.79zM487.03 772.11h1.9v1.95h-1.9zM494.61 772.11h1.9v1.95h-1.9zM447.2 774h13.28v1.95h-13.28zM462.37 774h1.9v1.95h-1.9zM466.17 774h5.69v1.95h-5.69zM473.75 774h3.79v1.95h-3.79zM479.44 774h3.79v1.95h-3.79zM485.13 774h1.9v1.95h-1.9zM496.51 774h3.79v1.95h-3.79z"/>
<path fill="#111" d="M527.6 721.2h13.23v1.94h-13.23zM542.72 721.2h1.89v1.94h-1.89zM548.39 721.2h7.56v1.94h-7.56zM565.39 721.2h1.89v1.94h-1.89zM569.17 721.2h13.23v1.94h-13.23zM527.6 723.09h1.89v1.94h-1.89zM538.94 723.09h1.89v1.94h-1.89zM542.72 723.09h3.78v1.94h-3.78zM548.39 723.09h1.89v1.94h-1.89zM552.17 723.09h1.89v1.94h-1.89zM555.94 723.09h3.78v1.94h-3.78zM561.61 723.09h3.78v1.94h-3.78zM569.17 723.09h1.89v1.94h-1.89zM580.51 723.09h1.89v1.94h-1.89zM527.6 724.98h1.89v1.94h-1.89zM531.38 724.98h5.67v1.94h-5.67zM538.94 724.98h1.89v1.94h-1.89zM544.61 724.98h1.89v1.94h-1.89zM550.28 724.98h7.56v1.94h-7.56zM559.72 724.98h1.89v1.94h-1.89zM563.5 724.98h3.78v1.94h-3.78zM569.17 724.98h1.89v1.94h-1.89zM572.95 724.98h5.67v1.94h-5.67zM580.51 724.98h1.89v1.94h-1.89zM527.6 726.87h1.89v1.94h-1.89zM531.38 726.87h5.67v1.94h-5.67zM538.94 726.87h1.89v1.94h-1.89zM544.61 726.87h3.78v1.94h-3.78zM550.28 726.87h5.67v1.94h-5.67zM563.5 726.87h3.78v1.94h-3.78zM569.17 726.87h1.89v1.94h-1.89zM572.95 726.87h5.67v1.94h-5.67zM580.51 726.87h1.89v1.94h-1.89zM527.6 728.76h1.89v1.94h-1.89zM531.38 728.76h5.67v1.94h-5.67zM538.94 728.76h1.89v1.94h-1.89zM546.5 728.76h5.67v1.94h-5.67zM557.83 728.76h1.89v1.94h-1.89zM561.61 728.76h1.89v1.94h-1.89zM565.39 728.76h1.89v1.94h-1.89zM569.17 728.76h1.89v1.94h-1.89zM572.95 728.76h5.67v1.94h-5.67zM580.51 728.76h1.89v1.94h-1.89zM527.6 730.65h1.89v1.94h-1.89zM538.94 730.65h1.89v1.94h-1.89zM542.72 730.65h3.78v1.94h-3.78zM548.39 730.65h1.89v1.94h-1.89zM552.17 730.65h1.89v1.94h-1.89zM555.94 730.65h5.67v1.94h-5.67zM563.5 730.65h3.78v1.94h-3.78zM569.17 730.65h1.89v1.94h-1.89zM580.51 730.65h1.89v1.94h-1.89zM527.6 732.54h13.23v1.94h-13.23zM542.72 732.54h1.89v1.94h-1.89zM546.5 732.54h1.89v1.94h-1.89zM550.28 732.54h1.89v1.94h-1.89zM554.06 732.54h1.89v1.94h-1.89zM557.83 732.54h1.89v1.94h-1.89zM561.61 732.54h1.89v1.94h-1.89zM565.39 732.54h1.89v1.94h-1.89zM569.17 732.54h13.23v1.94h-13.23zM542.72 734.43h5.67v1.94h-5.67zM550.28 734.43h1.89v1.94h-1.89zM554.06 734.43h1.89v1.94h-1.89zM557.83 734.43h3.78v1.94h-3.78zM565.39 734.43h1.89v1.94h-1.89zM527.6 736.32h1.89v1.94h-1.89zM531.38 736.32h9.45v1.94h-9.45zM548.39 736.32h3.78v1.94h-3.78zM557.83 736.32h1.89v1.94h-1.89zM561.61 736.32h1.89v1.94h-1.89zM565.39 736.32h1.89v1.94h-1.89zM571.06 736.32h3.78v1.94h-3.78zM576.73 736.32h1.89v1.94h-1.89zM531.38 738.21h5.67v1.94h-5.67zM542.72 738.21h1.89v1.94h-1.89zM546.5 738.21h5.67v1.94h-5.67zM563.5 738.21h1.89v1.94h-1.89zM572.95 738.21h3.78v1.94h-3.78zM580.51 738.21h1.89v1.94h-1.89zM538.94 740.1h1.89v1.94h-1.89zM542.72 740.1h7.56v1.94h-7.56zM557.83 740.1h1.89v1.94h-1.89zM563.5 740.1h7.56v1.94h-7.56zM572.95 740.1h5.67v1.94h-5.67zM531.38 741.99h7.56v1.94h-7.56zM540.83 741.99h1.89v1.94h-1.89zM544.61 741.99h5.67v1.94h-5.67zM552.17 741.99h11.34v1.94h-11.34zM569.17 741.99h3.78v1.94h-3.78zM576.73 741.99h3.78v1.94h-3.78zM529.49 743.88h1.89v1.94h-1.89zM535.16 743.88h1.89v1.94h-1.89zM538.94 743.88h1.89v1.94h-1.89zM548.39 743.88h1.89v1.94h-1.89zM552.17 743.88h11.34v1.94h-11.34zM565.39 743.88h3.78v1.94h-3.78zM571.06 743.88h1.89v1.94h-1.89zM576.73 743.88h1.89v1.94h-1.89zM527.6 745.77h3.78v1.94h-3.78zM540.83 745.77h1.89v1.94h-1.89zM544.61 745.77h9.45v1.94h-9.45zM555.94 745.77h5.67v1.94h-5.67zM565.39 745.77h1.89v1.94h-1.89zM572.95 745.77h1.89v1.94h-1.89zM576.73 745.77h3.78v1.94h-3.78zM529.49 747.66h1.89v1.94h-1.89zM533.27 747.66h11.34v1.94h-11.34zM546.5 747.66h7.56v1.94h-7.56zM557.83 747.66h1.89v1.94h-1.89zM563.5 747.66h1.89v1.94h-1.89zM574.84 747.66h1.89v1.94h-1.89zM578.62 747.66h3.78v1.94h-3.78zM531.38 749.54h1.89v1.94h-1.89zM535.16 749.54h1.89v1.94h-1.89zM546.5 749.54h3.78v1.94h-3.78zM555.94 749.54h15.12v1.94h-15.12zM527.6 751.43h3.78v1.94h-3.78zM533.27 751.43h3.78v1.94h-3.78zM538.94 751.43h3.78v1.94h-3.78zM544.61 751.43h5.67v1.94h-5.67zM559.72 751.43h3.78v1.94h-3.78zM569.17 751.43h5.67v1.94h-5.67zM580.51 751.43h1.89v1.94h-1.89zM527.6 753.32h1.89v1.94h-1.89zM533.27 753.32h3.78v1.94h-3.78zM542.72 753.32h5.67v1.94h-5.67zM550.28 753.32h1.89v1.94h-1.89zM557.83 753.32h5.67v1.94h-5.67zM567.28 753.32h1.89v1.94h-1.89zM574.84 753.32h5.67v1.94h-5.67zM527.6 755.21h1.89v1.94h-1.89zM531.38 755.21h15.12v1.94h-15.12zM548.39 755.21h3.78v1.94h-3.78zM554.06 755.21h1.89v1.94h-1.89zM559.72 755.21h1.89v1.94h-1.89zM563.5 755.21h3.78v1.94h-3.78zM572.95 755.21h5.67v1.94h-5.67zM580.51 755.21h1.89v1.94h-1.89zM527.6 757.1h1.89v1.94h-1.89zM535.16 757.1h1.89v1.94h-1.89zM540.83 757.1h1.89v1.94h-1.89zM544.61 757.1h5.67v1.94h-5.67zM554.06 757.1h1.89v1.94h-1.89zM567.28 757.1h5.67v1.94h-5.67zM576.73 757.1h1.89v1.94h-1.89zM527.6 758.99h1.89v1.94h-1.89zM531.38 758.99h20.79v1.94h-20.79zM554.06 758.99h3.78v1.94h-3.78zM561.61 758.99h13.23v1.94h-13.23zM542.72 760.88h3.78v1.94h-3.78zM554.06 760.88h1.89v1.94h-1.89zM559.72 760.88h1.89v1.94h-1.89zM563.5 760.88h3.78v1.94h-3.78zM572.95 760.88h1.89v1.94h-1.89zM580.51 760.88h1.89v1.94h-1.89zM527.6 762.77h13.23v1.94h-13.23zM542.72 762.77h9.45v1.94h-9.45zM565.39 762.77h1.89v1.94h-1.89zM569.17 762.77h1.89v1.94h-1.89zM572.95 762.77h1.89v1.94h-1.89zM576.73 762.77h1.89v1.94h-1.89zM580.51 762.77h1.89v1.94h-1.89zM527.6 764.66h1.89v1.94h-1.89zM538.94 764.66h1.89v1.94h-1.89zM550.28 764.66h3.78v1.94h-3.78zM565.39 764.66h1.89v1.94h-1.89zM572.95 764.66h1.89v1.94h-1.89zM576.73 764.66h5.67v1.94h-5.67zM527.6 766.55h1.89v1.94h-1.89zM531.38 766.55h5.67v1.94h-5.67zM538.94 766.55h1.89v1.94h-1.89zM542.72 766.55h3.78v1.94h-3.78zM548.39 766.55h1.89v1.94h-1.89zM552.17 766.55h1.89v1.94h-1.89zM557.83 766.55h1.89v1.94h-1.89zM565.39 766.55h13.23v1.94h-13.23zM580.51 766.55h1.89v1.94h-1.89zM527.6 768.44h1.89v1.94h-1.89zM531.38 768.44h5.67v1.94h-5.67zM538.94 768.44h1.89v1.94h-1.89zM552.17 768.44h1.89v1.94h-1.89zM555.94 768.44h5.67v1.94h-5.67zM563.5 768.44h9.45v1.94h-9.45zM527.6 770.33h1.89v1.94h-1.89zM531.38 770.33h5.67v1.94h-5.67zM538.94 770.33h1.89v1.94h-1.89zM542.72 770.33h1.89v1.94h-1.89zM546.5 770.33h1.89v1.94h-1.89zM550.28 770.33h3.78v1.94h-3.78zM559.72 770.33h3.78v1.94h-3.78zM565.39 770.33h5.67v1.94h-5.67zM578.62 770.33h1.89v1.94h-1.89zM527.6 772.22h1.89v1.94h-1.89zM538.94 772.22h1.89v1.94h-1.89zM542.72 772.22h3.78v1.94h-3.78zM552.17 772.22h11.34v1.94h-11.34zM571.06 772.22h1.89v1.94h-1.89zM527.6 774.11h13.23v1.94h-13.23zM544.61 774.11h13.23v1.94h-13.23zM559.72 774.11h1.89v1.94h-1.89zM567.28 774.11h5.67v1.94h-5.67zM580.51 774.11h1.89v1.94h-1.89z"/>
<path fill="#111" d="M608.4 721.2h13.23v1.94h-13.23zM623.52 721.2h1.89v1.94h-1.89zM631.08 721.2h7.56v1.94h-7.56zM640.52 721.2h1.89v1.94h-1.89zM644.3 721.2h3.78v1.94h-3.78zM649.97 721.2h13.23v1.94h-13.23zM608.4 723.09h1.89v1.94h-1.89zM619.74 723.09h1.89v1.94h-1.89zM623.52 723.09h1.89v1.94h-1.89zM629.19 723.09h5.67v1.94h-5.67zM649.97 723.09h1.89v1.94h-1.89zM661.31 723.09h1.89v1.94h-1.89zM608.4 724.98h1.89v1.94h-1.89zM612.18 724.98h5.67v1.94h-5.67zM619.74 724.98h1.89v1.94h-1.89zM623.52 724.98h1.89v1.94h-1.89zM627.3 724.98h1.89v1.94h-1.89zM632.97 724.98h9.45v1.94h-9.45zM649.97 724.98h1.89v1.94h-1.89zM653.75 724.98h5.67v1.94h-5.67zM661.31 724.98h1.89v1.94h-1.89zM608.4 726.87h1.89v1.94h-1.89zM612.18 726.87h5.67v1.94h-5.67zM619.74 726.87h1.89v1.94h-1.89zM629.19 726.87h1.89v1.94h-1.89zM632.97 726.87h5.67v1.94h-5.67zM640.52 726.87h3.78v1.94h-3.78zM646.19 726.87h1.89v1.94h-1.89zM649.97 726.87h1.89v1.94h-1.89zM653.75 726.87h5.67v1.94h-5.67zM661.31 726.87h1.89v1.94h-1.89zM608.4 728.76h1.89v1.94h-1.89zM612.18 728.76h5.67v1.94h-5.67zM619.74 728.76h1.89v1.94h-1.89zM623.52 728.76h13.23v1.94h-13.23zM640.52 728.76h1.89v1.94h-1.89zM646.19 728.76h1.89v1.94h-1.89zM649.97 728.76h1.89v1.94h-1.89zM653.75 728.76h5.67v1.94h-5.67zM661.31 728.76h1.89v1.94h-1.89zM608.4 730.65h1.89v1.94h-1.89zM619.74 730.65h1.89v1.94h-1.89zM623.52 730.65h1.89v1.94h-1.89zM631.08 730.65h3.78v1.94h-3.78zM640.52 730.65h1.89v1.94h-1.89zM644.3 730.65h1.89v1.94h-1.89zM649.97 730.65h1.89v1.94h-1.89zM661.31 730.65h1.89v1.94h-1.89zM608.4 732.54h13.23v1.94h-13.23zM623.52 732.54h1.89v1.94h-1.89zM627.3 732.54h1.89v1.94h-1.89zM631.08 732.54h1.89v1.94h-1.89zM634.86 732.54h1.89v1.94h-1.89zM638.63 732.54h1.89v1.94h-1.89zM642.41 732.54h1.89v1.94h-1.89zM646.19 732.54h1.89v1.94h-1.89zM649.97 732.54h13.23v1.94h-13.23zM623.52 734.43h1.89v1.94h-1.89zM631.08 734.43h1.89v1.94h-1.89zM638.63 734.43h1.89v1.94h-1.89zM642.41 734.43h5.67v1.94h-5.67zM610.29 736.32h5.67v1.94h-5.67zM619.74 736.32h1.89v1.94h-1.89zM623.52 736.32h9.45v1.94h-9.45zM634.86 736.32h5.67v1.94h-5.67zM642.41 736.32h5.67v1.94h-5.67zM649.97 736.32h5.67v1.94h-5.67zM659.42 736.32h1.89v1.94h-1.89zM608.4 738.21h3.78v1.94h-3.78zM617.85 738.21h1.89v1.94h-1.89zM625.41 738.21h1.89v1.94h-1.89zM629.19 738.21h15.12v1.94h-15.12zM648.08 738.21h1.89v1.94h-1.89zM651.86 738.21h3.78v1.94h-3.78zM657.53 738.21h5.67v1.94h-5.67zM608.4 740.1h1.89v1.94h-1.89zM612.18 740.1h1.89v1.94h-1.89zM615.96 740.1h15.12v1.94h-15.12zM634.86 740.1h1.89v1.94h-1.89zM638.63 740.1h1.89v1.94h-1.89zM642.41 740.1h1.89v1.94h-1.89zM648.08 740.1h5.67v1.94h-5.67zM655.64 740.1h7.56v1.94h-7.56zM610.29 741.99h1.89v1.94h-1.89zM623.52 741.99h1.89v1.94h-1.89zM632.97 741.99h3.78v1.94h-3.78zM642.41 741.99h1.89v1.94h-1.89zM646.19 741.99h7.56v1.94h-7.56zM655.64 741.99h1.89v1.94h-1.89zM610.29 743.88h1.89v1.94h-1.89zM617.85 743.88h3.78v1.94h-3.78zM623.52 743.88h3.78v1.94h-3.78zM629.19 743.88h3.78v1.94h-3.78zM634.86 743.88h9.45v1.94h-9.45zM646.19 743.88h1.89v1.94h-1.89zM651.86 743.88h1.89v1.94h-1.89zM657.53 743.88h5.67v1.94h-5.67zM612.18 745.77h7.56v1.94h-7.56zM623.52 745.77h1.89v1.94h-1.89zM627.3 745.77h3.78v1.94h-3.78zM632.97 745.77h1.89v1.94h-1.89zM636.74 745.77h1.89v1.94h-1.89zM642.41 745.77h1.89v1.94h-1.89zM648.08 745.77h1.89v1.94h-1.89zM651.86 745.77h1.89v1.94h-1.89zM655.64 745.77h1.89v1.94h-1.89zM659.42 745.77h3.78v1.94h-3.78zM612.18 747.66h3.78v1.94h-3.78zM617.85 747.66h3.78v1.94h-3.78zM623.52 747.66h3.78v1.94h-3.78zM629.19 747.66h5.67v1.94h-5.67zM636.74 747.66h1.89v1.94h-1.89zM642.41 747.66h1.89v1.94h-1.89zM659.42 747.66h3.78v1.94h-3.78zM612.18 749.54h1.89v1.94h-1.89zM625.41 749.54h1.89v1.94h-1.89zM629.19 749.54h1.89v1.94h-1.89zM632.97 749.54h1.89v1.94h-1.89zM636.74 749.54h1.89v1.94h-1.89zM640.52 749.54h1.89v1.94h-1.89zM648.08 749.54h7.56v1.94h-7.56zM661.31 749.54h1.89v1.94h-1.89zM608.4 751.43h1.89v1.94h-1.89zM614.07 751.43h11.34v1.94h-11.34zM627.3 751.43h1.89v1.94h-1.89zM631.08 751.43h3.78v1.94h-3.78zM636.74 751.43h15.12v1.94h-15.12zM653.75 751.43h3.78v1.94h-3.78zM615.96 753.32h3.78v1.94h-3.78zM629.19 753.32h1.89v1.94h-1.89zM632.97 753.32h7.56v1.94h-7.56zM646.19 753.32h1.89v1.94h-1.89zM649.97 753.32h1.89v1.94h-1.89zM653.75 753.32h1.89v1.94h-1.89zM659.42 753.32h1.89v1.94h-1.89zM608.4 755.21h9.45v1.94h-9.45zM619.74 755.21h1.89v1.94h-1.89zM623.52 755.21h1.89v1.94h-1.89zM627.3 755.21h7.56v1.94h-7.56zM636.74 755.21h3.78v1.94h-3.78zM644.3 755.21h7.56v1.94h-7.56zM653.75 755.21h3.78v1.94h-3.78zM659.42 755.21h3.78v1.94h-3.78zM612.18 757.1h1.89v1.94h-1.89zM629.19 757.1h1.89v1.94h-1.89zM636.74 757.1h3.78v1.94h-3.78zM642.41 757.1h5.67v1.94h-5.67zM649.97 757.1h1.89v1.94h-1.89zM659.42 757.1h1.89v1.94h-1.89zM619.74 758.99h9.45v1.94h-9.45zM631.08 758.99h3.78v1.94h-3.78zM636.74 758.99h1.89v1.94h-1.89zM640.52 758.99h1.89v1.94h-1.89zM644.3 758.99h11.34v1.94h-11.34zM657.53 758.99h3.78v1.94h-3.78zM627.3 760.88h3.78v1.94h-3.78zM632.97 760.88h1.89v1.94h-1.89zM638.63 760.88h1.89v1.94h-1.89zM642.41 760.88h1.89v1.94h-1.89zM646.19 760.88h1.89v1.94h-1.89zM653.75 760.88h3.78v1.94h-3.78zM661.31 760.88h1.89v1.94h-1.89zM608.4 762.77h13.23v1.94h-13.23zM629.19 762.77h1.89v1.94h-1.89zM634.86 762.77h5.67v1.94h-5.67zM644.3 762.77h3.78v1.94h-3.78zM649.97 762.77h1.89v1.94h-1.89zM653.75 762.77h3.78v1.94h-3.78zM659.42 762.77h1.89v1.94h-1.89zM608.4 764.66h1.89v1.94h-1.89zM619.74 764.66h1.89v1.94h-1.89zM623.52 764.66h1.89v1.94h-1.89zM627.3 764.66h1.89v1.94h-1.89zM632.97 764.66h1.89v1.94h-1.89zM636.74 764.66h1.89v1.94h-1.89zM644.3 764.66h3.78v1.94h-3.78zM653.75 764.66h1.89v1.94h-1.89zM657.53 764.66h5.67v1.94h-5.67zM608.4 766.55h1.89v1.94h-1.89zM612.18 766.55h5.67v1.94h-5.67zM619.74 766.55h1.89v1.94h-1.89zM625.41 766.55h1.89v1.94h-1.89zM629.19 766.55h1.89v1.94h-1.89zM632.97 766.55h3.78v1.94h-3.78zM646.19 766.55h11.34v1.94h-11.34zM661.31 766.55h1.89v1.94h-1.89zM608.4 768.44h1.89v1.94h-1.89zM612.18 768.44h5.67v1.94h-5.67zM619.74 768.44h1.89v1.94h-1.89zM623.52 768.44h3.78v1.94h-3.78zM634.86 768.44h1.89v1.94h-1.89zM640.52 768.44h1.89v1.94h-1.89zM644.3 768.44h5.67v1.94h-5.67zM651.86 768.44h5.67v1.94h-5.67zM661.31 768.44h1.89v1.94h-1.89zM608.4 770.33h1.89v1.94h-1.89zM612.18 770.33h5.67v1.94h-5.67zM619.74 770.33h1.89v1.94h-1.89zM625.41 770.33h5.67v1.94h-5.67zM636.74 770.33h1.89v1.94h-1.89zM642.41 770.33h5.67v1.94h-5.67zM649.97 770.33h3.78v1.94h-3.78zM655.64 770.33h3.78v1.94h-3.78zM661.31 770.33h1.89v1.94h-1.89zM608.4 772.22h1.89v1.94h-1.89zM619.74 772.22h1.89v1.94h-1.89zM623.52 772.22h1.89v1.94h-1.89zM631.08 772.22h1.89v1.94h-1.89zM636.74 772.22h1.89v1.94h-1.89zM640.52 772.22h1.89v1.94h-1.89zM646.19 772.22h1.89v1.94h-1.89zM649.97 772.22h1.89v1.94h-1.89zM608.4 774.11h13.23v1.94h-13.23zM623.52 774.11h1.89v1.94h-1.89zM627.3 774.11h1.89v1.94h-1.89zM632.97 774.11h1.89v1.94h-1.89zM636.74 774.11h5.67v1.94h-5.67zM644.3 774.11h5.67v1.94h-5.67zM651.86 774.11h1.89v1.94h-1.89zM655.64 774.11h3.78v1.94h-3.78zM661.31 774.11h1.89v1.94h-1.89z"/>
<g fill="#1a1a1a" font-weight="bold" font-size="14.6" stroke="#1a1a1a" stroke-width="0.3">
<text x="448.7" y="708.6" textLength="54" lengthAdjust="spacingAndGlyphs">761060</text>
<text x="528.8" y="708.7" textLength="54.8" lengthAdjust="spacingAndGlyphs">761063</text>
<text x="610.6" y="708.7" textLength="52" lengthAdjust="spacingAndGlyphs">761067</text>
</g>

<!-- chand.svg -->
<g stroke="#111" stroke-width="1.2" fill="#fff" stroke-linejoin="round">
<path fill="#fff" d="M483.5 824.3H549V832.4H483.5Z"/>

<path fill="none" d="M489.4 832.4V869.6C489.4 873 488.5 876 486.5 879.5M492.8 832.4V869.6C492.8 873 492 877 490 881"/>
<path fill="none" d="M492.8 868.5L501.5 881M493.6 873L499.5 881.2"/>
<path fill="#fff" d="M482.5 874.5C482 871.5 484 869.5 486.5 870C489 870.5 490 873 489.5 875.5L488 879.5L483.5 879Z"/>
<path fill="#fff" d="M477 878.5H485V881.4H477Z"/>
<path fill="none" stroke-width="3.2" d="M438.9 875C439.5 870.8 446 870 446.6 874.8V881"/>
<path fill="none" stroke="#fff" stroke-width="1.2" d="M438.9 875.5C439.5 870.8 446 870 446.6 874.8V881.5"/>
<path fill="#fff" d="M433.3 877.4L435.5 873.6L439.3 875.3L437.6 879.6Z"/>
<path fill="#fff" d="M427.6 876.3L438 881L436.5 893.8L423.5 886.1Z"/>
<path fill="#fff" d="M428.4 881.2H453.4V887.8H428.4Z"/>
<circle cx="431.8" cy="884.5" r="2.4" fill="#fff"/>
<path fill="#fff" d="M421.3 885.6L437.1 893.8L430 907.4C432.5 918 433 932 428.4 945.5L382.1 919.9C392 906 402 901 413.1 898.1C416 894.5 419 889 421.3 885.6Z"/>
<path fill="none" d="M413.1 898.1L430 907.4"/>
<path fill="#fff" d="M474.2 889.4L491.5 890.7L489.7 906.2C497 914 502.7 925 502.7 936C502.7 942 500 947 494.6 949C488 951.5 482 952.1 478.5 952.1C472 952 467 951 463.6 949C457 946 452 943 451.8 937C451.6 925 461 912 471 903.7Z"/>
<path fill="none" d="M471 903.7L489.7 906.2"/>
<g transform="matrix(-1 0 0 1 1032.3 0)">
<path fill="none" d="M489.4 832.4V869.6C489.4 873 488.5 876 486.5 879.5M492.8 832.4V869.6C492.8 873 492 877 490 881"/>
<path fill="none" d="M492.8 868.5L501.5 881M493.6 873L499.5 881.2"/>
<path fill="#fff" d="M482.5 874.5C482 871.5 484 869.5 486.5 870C489 870.5 490 873 489.5 875.5L488 879.5L483.5 879Z"/>
<path fill="#fff" d="M477 878.5H485V881.4H477Z"/>
<path fill="none" stroke-width="3.2" d="M438.9 875C439.5 870.8 446 870 446.6 874.8V881"/>
<path fill="none" stroke="#fff" stroke-width="1.2" d="M438.9 875.5C439.5 870.8 446 870 446.6 874.8V881.5"/>
<path fill="#fff" d="M433.3 877.4L435.5 873.6L439.3 875.3L437.6 879.6Z"/>
<path fill="#fff" d="M427.6 876.3L438 881L436.5 893.8L423.5 886.1Z"/>
<path fill="#fff" d="M428.4 881.2H453.4V887.8H428.4Z"/>
<circle cx="431.8" cy="884.5" r="2.4" fill="#fff"/>
<path fill="#fff" d="M421.3 885.6L437.1 893.8L430 907.4C432.5 918 433 932 428.4 945.5L382.1 919.9C392 906 402 901 413.1 898.1C416 894.5 419 889 421.3 885.6Z"/>
<path fill="none" d="M413.1 898.1L430 907.4"/>
<path fill="#fff" d="M474.2 889.4L491.5 890.7L489.7 906.2C497 914 502.7 925 502.7 936C502.7 942 500 947 494.6 949C488 951.5 482 952.1 478.5 952.1C472 952 467 951 463.6 949C457 946 452 943 451.8 937C451.6 925 461 912 471 903.7Z"/>
<path fill="none" d="M471 903.7L489.7 906.2"/>
</g>
<path fill="#fff" d="M453.4 881.4H578.9V888.8H453.4Z"/>
</g>
<g stroke="#111" stroke-width="1" fill="#111">
<path d="M386 986H648.6" fill="none"/>
<path d="M385.9 986L397.8 983.5L396.5 986L397.8 988.5Z" stroke="none"/>
<path d="M648.6 986L636.7 983.5L638 986L636.7 988.5Z" stroke="none"/>
<path d="M663.6 818V956.4" fill="none"/>
<path d="M663.6 818L661.1 829.5L663.6 828.2L666.1 829.5Z" stroke="none"/>
<path d="M663.6 956.4L661.1 944.9L663.6 946.2L666.1 944.9Z" stroke="none"/>
</g>
<text x="496.3" y="981.3" font-size="13.6" fill="#222" textLength="44.7" lengthAdjust="spacingAndGlyphs">ø 75 cm</text>
<text transform="translate(670.8 870) rotate(90)" x="0" y="0" font-size="14.2" fill="#222" textLength="33.6" lengthAdjust="spacingAndGlyphs">33 cm</text>

</svg>
</body></html>
